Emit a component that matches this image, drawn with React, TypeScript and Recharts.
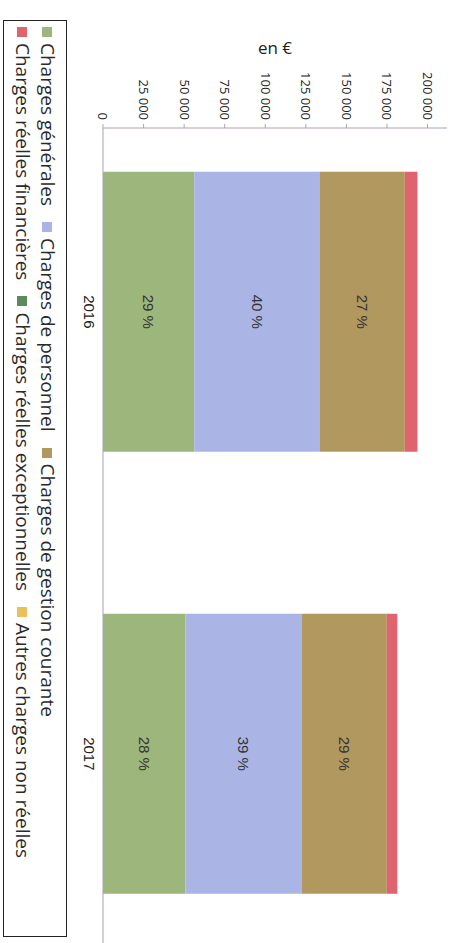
import React from 'react';
import { BarChart, Bar, XAxis, YAxis, LabelList } from 'recharts';

const years = [2016, 2017];
const chargesGenerales = [56200, 50800];
const chargesPersonnel = [77500, 71500];
const chargesGestionCourante = [52300, 52600];
const chargesReellesFinancieres = [7800, 6500];
const chargesReellesExceptionnelles = [0, 0];
const autresChargesNonReelles = [0, 0];
const pctGenerales = ['29 %', '28 %'];
const pctPersonnel = ['40 %', '39 %'];
const pctGestion = ['27 %', '29 %'];
const valueTicks = [0, 25000, 50000, 75000, 100000, 125000, 150000, 175000, 200000];
const valueDomain = [0, 212000];
const yearDomain = [2015.584, 2017.428];
const axisTitle = 'en €';

const series = [
  { key: 'generales', name: 'Charges générales', color: '#9db67b', values: chargesGenerales, pct: pctGenerales },
  { key: 'personnel', name: 'Charges de personnel', color: '#abb5e5', values: chargesPersonnel, pct: pctPersonnel },
  { key: 'gestion', name: 'Charges de gestion courante', color: '#b1985f', values: chargesGestionCourante, pct: pctGestion },
  { key: 'financieres', name: 'Charges réelles financières', color: '#e0646e', values: chargesReellesFinancieres, pct: null },
  { key: 'exceptionnelles', name: 'Charges réelles exceptionnelles', color: '#5b8b5d', values: chargesReellesExceptionnelles, pct: null },
  { key: 'autres', name: 'Autres charges non réelles', color: '#e8c05c', values: autresChargesNonReelles, pct: null },
];

const data = years.map((y, i) => {
  const row: any = { year: y };
  series.forEach((s) => {
    row[s.key] = s.values[i];
    if (s.pct) row[s.key + 'Pct'] = s.pct[i];
  });
  return row;
});

const fmt = (v: number) => String(v).replace(/\B(?=(\d{3})+(?!\d))/g, ' ');

const LegendBox = () => {
  const rows = [series.slice(0, 3), series.slice(3)];
  return (
    <div
      style={{
        position: 'absolute',
        left: 20,
        top: 386,
        border: '1.5px solid #222',
        boxSizing: 'border-box',
        width: 917,
        height: 64,
        padding: '6px 0 0 6px',
        fontFamily: '"Open Sans"',
        fontSize: 19,
        color: '#2a2a2a',
        background: '#fff',
      }}
    >
      {rows.map((r, ri) => (
        <div key={ri} style={{ display: 'flex', alignItems: 'center', height: 25, whiteSpace: 'nowrap', lineHeight: '25px' }}>
          {r.map((s) => (
            <span key={s.key} style={{ display: 'inline-flex', alignItems: 'center', marginRight: 16 }}>
              <span style={{ display: 'inline-block', width: 10, height: 10, background: s.color, marginRight: 6 }} />
              {s.name}
            </span>
          ))}
        </div>
      ))}
    </div>
  );
};

const YLabel = (props: any) => {
  const vb = props.viewBox || { x: 0, y: 0, width: 0, height: 0 };
  const x = vb.x + 47;
  const y = vb.y + vb.height / 2;
  return (
    <text
      x={x}
      y={y}
      transform={`rotate(-90 ${x} ${y})`}
      textAnchor="middle"
      dominantBaseline="central"
      fontFamily='"Open Sans"'
      fontSize={17}
      fill="#222"
    >
      {axisTitle}
    </text>
  );
};

const axisColor = '#ad9fb8';

export default function App() {
  return (
    <div style={{ position: 'absolute', left: 0, top: 0, width: 453, height: 943, overflow: 'hidden', background: '#fff' }}>
      <div
        style={{
          position: 'absolute',
          left: 0,
          top: 0,
          width: 943,
          height: 453,
          transformOrigin: '0 0',
          transform: 'translate(453px, 0px) rotate(90deg)',
        }}
      >
        <BarChart width={943} height={453} data={data} margin={{ top: 6, right: 0, bottom: 67, left: 0 }}>
          <XAxis
            type="number"
            dataKey="year"
            domain={yearDomain}
            ticks={years}
            allowDataOverflow
            height={36}
            tickLine={false}
            axisLine={{ stroke: axisColor, strokeWidth: 1 }}
            tick={{ fontFamily: '"Liberation Sans"', fontSize: 15, fill: '#222' }}
          />
          <YAxis
            type="number"
            domain={valueDomain}
            ticks={valueTicks}
            allowDataOverflow
            width={128}
            tickFormatter={fmt}
            tickSize={4}
            tickMargin={4}
            tickLine={{ stroke: axisColor }}
            axisLine={{ stroke: axisColor, strokeWidth: 1 }}
            tick={{ fontFamily: '"Open Sans"', fontSize: 13, fill: '#222' }}
            label={YLabel}
          />
          {series.map((s) => (
            <Bar
              key={s.key}
              dataKey={s.key}
              name={s.name}
              stackId="a"
              fill={s.color}
              barSize={280}
              isAnimationActive={false}
            >
              {s.pct ? (
                <LabelList
                  dataKey={s.key + 'Pct'}
                  position="center"
                  fill="#333"
                  fontFamily='"Liberation Sans"'
                  fontSize={15}
                />
              ) : null}
            </Bar>
          ))}
        </BarChart>
        <LegendBox />
      </div>
    </div>
  );
}
